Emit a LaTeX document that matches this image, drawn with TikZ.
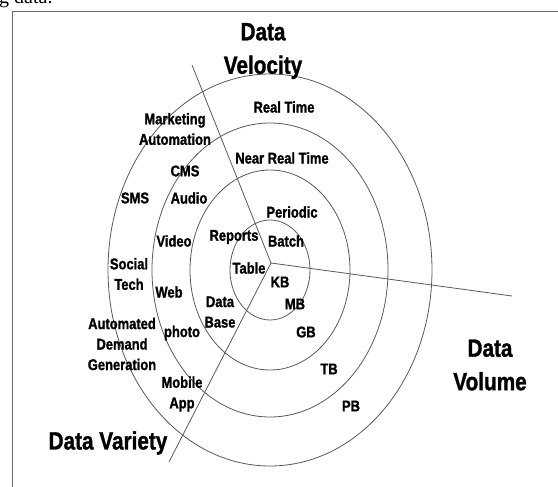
\documentclass[tikz,border=0pt]{standalone}
\usepackage{fontspec}
\setmainfont{Liberation Serif}
\newfontfamily\lblfont{Liberation Sans}[FakeStretch=0.83, BoldFeatures={FakeBold=1.2}]
\begin{document}
\begin{tikzpicture}[
    x=1pt, y=-1pt,
    frame/.style={draw=black!60, line width=0.9pt},
    ring/.style={draw=black!65, line width=0.8pt},
    axis/.style={draw=black!65, line width=0.8pt},
    item/.style={font=\lblfont\bfseries\fontsize{15.6}{20.5}\selectfont, inner sep=0pt, align=center},
    heading/.style={font=\lblfont\bfseries\fontsize{25}{33.5}\selectfont, inner sep=0pt, align=center},
]
\useasboundingbox (0,0) rectangle (558,487);

% Cornice e testo tagliato
\node[font=\fontsize{20}{22}\selectfont, anchor=base west, inner sep=0pt] (cut) at (-1,4) {g data.};
\draw[frame] (570,11) -- (12,11) -- (12,500);

% Anelli
\coordinate (ctr) at (270,270);
\draw[ring] (ctr) ellipse [x radius=40, y radius=50];
\draw[ring] (ctr) ellipse [x radius=80, y radius=100];
\draw[ring] (ctr) ellipse [x radius=118, y radius=147];
\draw[ring] (ctr) ellipse [x radius=162, y radius=196];

% Assi
\coordinate (hub) at (271,263);
\coordinate (velEnd) at (192,65);
\coordinate (volEnd) at (512,296);
\coordinate (varEnd) at (169,462);
\draw[axis] (hub) -- (velEnd);
\draw[axis] (hub) -- (volEnd);
\draw[axis] (hub) -- (varEnd);

% Titoli
\node[heading] (velocity) at (263,51) {Data\\Velocity};
\node[heading] (volume) at (490,365) {Data\\Volume};
\node[heading] (variety) at (108,443) {Data Variety};

% Velocity
\node[item] (realtime) at (284,107) {Real Time};
\node[item] (nearrt) at (282,158) {Near Real Time};
\node[item] (periodic) at (292,212) {Periodic};
\node[item] (batch) at (286,241) {Batch};

% Variety
\node[item] (marketing) at (175,129) {Marketing\\Automation};
\node[item] (cms) at (185,171) {CMS};
\node[item] (sms) at (135,198) {SMS};
\node[item] (audio) at (189,198) {Audio};
\node[item] (video) at (174,241) {Video};
\node[item] (reports) at (234,237) {Reports};
\node[item] (social) at (129,274) {Social\\Tech};
\node[item] (table) at (249,268) {Table};
\node[item] (web) at (169,292) {Web};
\node[item] (database) at (220,312) {Data\\Base};
\node[item] (automated) at (122,344) {Automated\\Demand\\Generation};
\node[item] (photo) at (182,333) {photo};
\node[item] (mobile) at (182,394) {Mobile\\App};

% Volume
\node[item] (kb) at (280,282) {KB};
\node[item] (mb) at (295,304) {MB};
\node[item] (gb) at (306,332) {GB};
\node[item] (tb) at (329,369) {TB};
\node[item] (pb) at (351,406) {PB};

\end{tikzpicture}
\end{document}
